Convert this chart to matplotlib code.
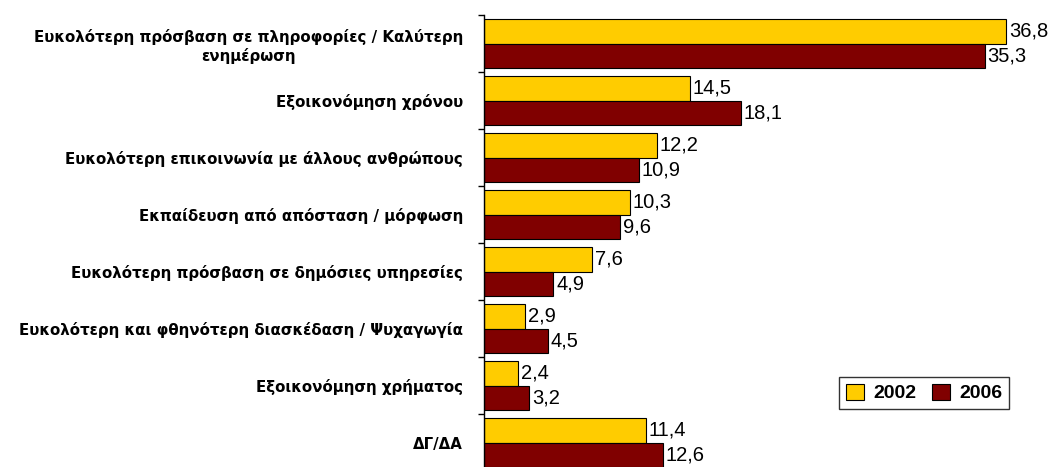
import numpy as np
import matplotlib
matplotlib.use("Agg")
import matplotlib.pyplot as plt

plt.rcParams['font.family'] = ['Liberation Sans', 'DejaVu Sans']

categories = [
    "Ευκολότερη πρόσβαση σε πληροφορίες / Καλύτερη\nενημέρωση",
    "Εξοικονόμηση χρόνου",
    "Ευκολότερη επικοινωνία με άλλους ανθρώπους",
    "Εκπαίδευση από απόσταση / μόρφωση",
    "Ευκολότερη πρόσβαση σε δημόσιες υπηρεσίες",
    "Ευκολότερη και φθηνότερη διασκέδαση / Ψυχαγωγία",
    "Εξοικονόμηση χρήματος",
    "ΔΓ/ΔΑ",
]
values_2002 = [36.8, 14.5, 12.2, 10.3, 7.6, 2.9, 2.4, 11.4]
values_2006 = [35.3, 18.1, 10.9, 9.6, 4.9, 4.5, 3.2, 12.6]
series_labels = ["2002", "2006"]

fig = plt.figure(figsize=(10.59, 4.67), dpi=100)
ax = fig.add_axes([0.457, -0.0086, 0.536, 0.9764])

y = np.arange(len(categories))
h = 0.43
b1 = ax.barh(y - h / 2, values_2002, height=h, color='#FFCC00',
             edgecolor='black', linewidth=0.8, label=series_labels[0])
b2 = ax.barh(y + h / 2, values_2006, height=h, color='#800000',
             edgecolor='black', linewidth=0.8, label=series_labels[1])

for bars, vals in ((b1, values_2002), (b2, values_2006)):
    for bar, v in zip(bars, vals):
        ax.annotate(f"{v:.1f}".replace('.', ','),
                    (v, bar.get_y() + bar.get_height() / 2),
                    xytext=(2, 0), textcoords='offset points',
                    va='center', ha='left', fontsize=14.5, color='black')

ax.set_xlim(0, 40)
ax.set_ylim(len(categories) - 0.5, -0.5)

for side in ('top', 'right', 'bottom'):
    ax.spines[side].set_visible(False)
ax.spines['left'].set_linewidth(1.0)
ax.set_xticks([])

# labels at category centres, tick marks at the boundaries
ax.set_yticks(y)
ax.set_yticklabels(categories, fontsize=10.8, fontweight='bold',
                   family='DejaVu Sans')
ax.tick_params(axis='y', which='major', length=0, pad=15)
ax.set_yticks(np.arange(len(categories) + 1) - 0.5, minor=True)
ax.tick_params(axis='y', which='minor', length=4, width=1, direction='out')
ax.get_yticklabels()[0].set_multialignment('center')

leg = ax.legend(loc='upper right', bbox_to_anchor=(0.953, 0.193),
                bbox_transform=fig.transFigure, ncol=2,
                prop={'size': 14, 'weight': 'bold'},
                frameon=True, fancybox=False, handlelength=0.9,
                handleheight=0.9, handletextpad=0.5, columnspacing=0.8,
                borderpad=0.35, borderaxespad=0)
leg.get_frame().set_edgecolor('black')
leg.get_frame().set_linewidth(1.0)

fig.savefig("out.png", dpi=100)
